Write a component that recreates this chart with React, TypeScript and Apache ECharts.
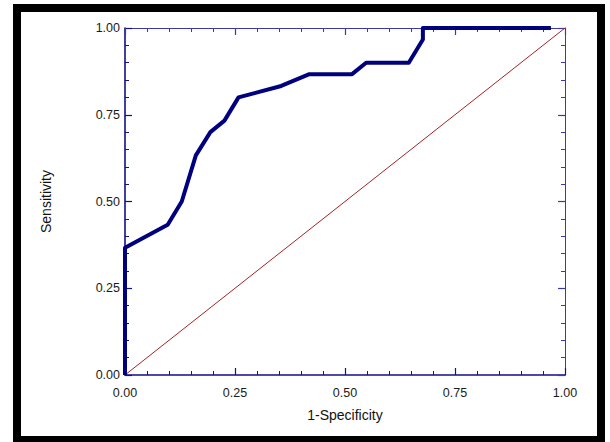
import React, { useEffect, useRef } from "react";
import * as echarts from "echarts";

const fpr = [0, 0, 0.097, 0.129, 0.161, 0.194, 0.226, 0.258, 0.355, 0.419, 0.516, 0.548, 0.645, 0.677, 0.677, 0.968];
const tpr = [0, 0.367, 0.433, 0.5, 0.633, 0.7, 0.733, 0.8, 0.833, 0.867, 0.867, 0.9, 0.9, 0.967, 1, 1];
const diagX = [0, 1];
const diagY = [0, 1];
const xName = "1-Specificity";
const yName = "Sensitivity";

const NAVY = "#10108a";
const FONT = "'Liberation Sans Narrow', 'Liberation Sans', Arial, sans-serif";

export default function App() {
  const ref = useRef<HTMLDivElement>(null);
  useEffect(() => {
    if (!ref.current) return;
    const chart = echarts.init(ref.current, undefined, { renderer: "svg" });
    const axisCommon = (show: boolean, lw: number, color: string) => ({
      type: "value" as const,
      min: 0,
      max: 1,
      interval: 0.25,
      axisLine: { show: true, onZero: false, lineStyle: { color, width: lw } },
      axisTick: { show: true, inside: true, length: 7, lineStyle: { color, width: 1.2 } },
      minorTick: { show: true, splitNumber: 5, length: 4, lineStyle: { color, width: 1 } },
      splitLine: { show: false },
      axisLabel: {
        show,
        color: "#1a1a1a",
        fontFamily: FONT,
        fontSize: 12.5,
        formatter: (v: number) => v.toFixed(2),
      },
    });
    chart.setOption({
      animation: false,
      backgroundColor: "#fff",
      grid: { left: 125, top: 28, width: 440, height: 347 },
      xAxis: [
        {
          ...axisCommon(true, 1.6, NAVY),
          position: "bottom",
          axisLabel: { ...axisCommon(true, 1, NAVY).axisLabel, margin: 11 },
          name: xName,
          nameLocation: "middle",
          nameGap: 33,
          nameTextStyle: { color: "#111", fontFamily: FONT, fontSize: 14 },
        },
        { ...axisCommon(false, 1, "#3a3aa6"), position: "top" },
      ],
      yAxis: [
        {
          ...axisCommon(true, 1.6, NAVY),
          position: "left",
          axisLabel: { ...axisCommon(true, 1, NAVY).axisLabel, margin: 5 },
          name: yName,
          nameLocation: "middle",
          nameGap: 72,
          nameTextStyle: { color: "#111", fontFamily: FONT, fontSize: 14 },
        },
        { ...axisCommon(false, 1, "#3a3aa6"), position: "right" },
      ],
      graphic: [
        {
          type: "rect",
          shape: { x: 17, y: 8, width: 584, height: 432 },
          style: { fill: "none", stroke: "#000", lineWidth: 8 },
          silent: true,
        },
      ],
      series: [
        {
          type: "line",
          data: diagX.map((x, i) => [x, diagY[i]]),
          symbol: "none",
          clip: false,
          lineStyle: { color: "#a32424", width: 1 },
          z: 3,
        },
        {
          type: "line",
          data: fpr.map((x, i) => [x, tpr[i]]),
          symbol: "none",
          clip: false,
          lineStyle: { color: "#00007f", width: 4, join: "round" },
          z: 4,
        },
      ],
    });
    return () => chart.dispose();
  }, []);
  return (
    <div
      ref={ref}
      style={{ position: "fixed", left: 0, top: 0, width: 610, height: 442 }}
    />
  );
}
